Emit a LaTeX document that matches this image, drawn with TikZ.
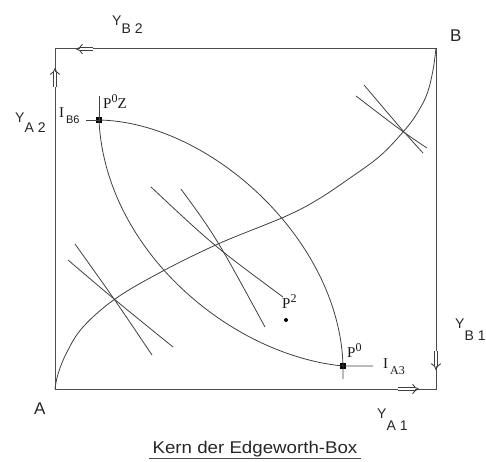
\documentclass[tikz,border=0pt]{standalone}
\usepackage{fontspec}
\setmainfont{Liberation Serif}
\setsansfont{Liberation Sans}
\usetikzlibrary{arrows.meta}
\begin{document}
\begin{tikzpicture}[x=1pt,y=-1pt,
  curve/.style={line width=0.8pt, draw=black!75},
  frame/.style={line width=1pt, draw=black!70},
  sq/.style={fill=black, minimum size=6pt, inner sep=0pt, draw=none, rectangle},
  dot/.style={fill=black, circle, minimum size=4pt, inner sep=0pt},
  sanslab/.style={font=\sffamily\fontsize{14}{14}\selectfont, inner sep=0pt, anchor=base west, text=black!85},
  bigsans/.style={font=\sffamily\fontsize{17}{17}\selectfont, inner sep=0pt, anchor=base west, text=black!85},
  serlab/.style={font=\rmfamily\fontsize{15}{15}\selectfont, inner sep=0pt, anchor=base west, text=black!90},
  dblarrow/.style={line width=0.9pt, draw=black!75, double=white, double distance=2.6pt, -{Implies[length=5pt]}}
]
\useasboundingbox (0,0) rectangle (486,461);

% box
\coordinate (A0) at (55,389);
\coordinate (B0) at (436,48);
\draw[frame] (A0) rectangle (B0);

% double arrows on the box edges
\coordinate (aT1) at (93,49); \coordinate (aT2) at (76,49);
\coordinate (aL1) at (55,87); \coordinate (aL2) at (55,68);
\coordinate (aR1) at (436,351); \coordinate (aR2) at (436,370);
\coordinate (aB1) at (398,389); \coordinate (aB2) at (419,389);
\draw[dblarrow] (aT1) -- (aT2);
\draw[dblarrow] (aL1) -- (aL2);
\draw[dblarrow] (aR1) -- (aR2);
\draw[dblarrow] (aB1) -- (aB2);

% points
\node[sq] (P0Z) at (99,120) {};
\node[sq] (P0) at (343,366) {};
\node[dot] (P2) at (286,320) {};

% ticks
\coordinate (tZu) at (99,96);
\coordinate (tZl) at (86,120);
\coordinate (t0d) at (343,379);
\coordinate (t0r) at (373,366);
\draw[curve] (tZu) -- (P0Z.center) -- (tZl);

% lens curves
\draw[curve] (P0Z.center) .. controls (210,122) and (340,240) .. (P0.center) -- (t0d);
\draw[curve] (P0Z.center) .. controls (105,250) and (230,355) .. (P0.center) -- (t0r);

% contract curve
\draw[curve] plot[smooth, tension=0.6] coordinates {(55,389) (58,374) (67,352) (83,327) (115,299) (161,272) (218,244) (284,217) (317,200) (350,178) (380,156) (403,132) (416,115) (427,94) (433,70) (436,48)};

% indifference curve pairs
\draw[curve] (75,244) .. controls (115,300) .. (152,355);
\draw[curve] (68,260) .. controls (115,300) .. (173,347);
\draw[curve] (151,187) .. controls (214,246) .. (283,297);
\draw[curve] (181,189) .. controls (216,237) .. (265,327);
\draw[curve] (364,85) .. controls (403,131) .. (423,153);
\draw[curve] (356,96) .. controls (403,132) .. (427,148);

% labels
\node[sanslab] (yb2) at (112,25) {Y\raisebox{-8pt}{B 2}};
\node[sanslab] (ya2) at (15,122) {Y\raisebox{-10pt}{A 2}};
\node[sanslab] (yb1) at (455,328) {Y\raisebox{-12pt}{B 1}};
\node[sanslab] (ya1) at (377,418) {Y\raisebox{-12pt}{A 1}};
\node[bigsans] (lB) at (450,41) {B};
\node[bigsans] (lA) at (34,414) {A};

\node[serlab] (ib6) at (59,117) {I\raisebox{-6pt}{\sffamily\fontsize{11}{11}\selectfont\,B6}};
\node[serlab] (p0z) at (103,108) {P\raisebox{6pt}{\fontsize{12}{12}\selectfont 0}Z};
\node[serlab] (p0) at (347,357) {P\raisebox{6pt}{\fontsize{12}{12}\selectfont 0}};
\node[serlab] (ia3) at (383,368) {I\raisebox{-6pt}{\fontsize{12}{12}\selectfont\,A3}};
\node[serlab] (p2) at (282,308) {P\raisebox{6pt}{\fontsize{12}{12}\selectfont 2}};

% caption
\node[font=\sffamily\fontsize{17}{17}\selectfont, anchor=base, inner xsep=3pt, inner ysep=2pt, text=black!85] (cap) at (255,453) {\scalebox{1.1}[1]{Kern der Edgeworth-Box}};
\draw[line width=0.8pt, draw=black!70] (cap.south west) -- (cap.south east);
\end{tikzpicture}
\end{document}
